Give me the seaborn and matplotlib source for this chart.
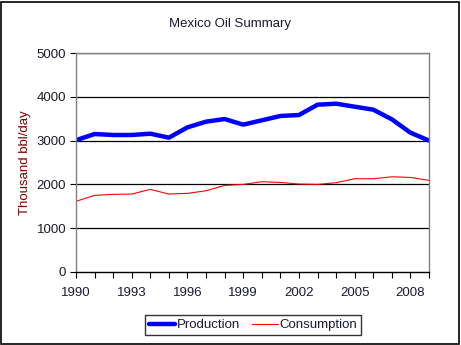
import matplotlib
matplotlib.use("Agg")
import matplotlib.pyplot as plt
import seaborn as sns
import pandas as pd
from matplotlib.patches import Rectangle
from matplotlib.lines import Line2D

years = list(range(1990, 2010))
production = [3010, 3150, 3128, 3128, 3158, 3067, 3303, 3432, 3493, 3364,
              3463, 3562, 3584, 3820, 3843, 3774, 3706, 3486, 3181, 3000]
consumption = [1614, 1750, 1773, 1780, 1886, 1780, 1795, 1855, 1977, 2000,
               2061, 2045, 2008, 2000, 2038, 2129, 2129, 2174, 2159, 2091]
xtick_labels = ["1990", "1993", "1996", "1999", "2002", "2005", "2008"]
yticks = [0, 1000, 2000, 3000, 4000, 5000]

df = pd.DataFrame({
    "Year": years * 2,
    "Value": production + consumption,
    "Series": ["Production"] * len(years) + ["Consumption"] * len(years),
})

sns.set_style("white")
plt.rcParams["font.family"] = ["Liberation Sans", "DejaVu Sans"]

fig = plt.figure(figsize=(4.61, 3.45), dpi=100)
ax = fig.add_axes([76 / 461, 73 / 345, 353 / 461, 219 / 345])

sns.lineplot(data=df, x="Year", y="Value", hue="Series", size="Series",
             palette={"Production": "#0000ff", "Consumption": "#ff0000"},
             sizes={"Production": 3.2, "Consumption": 0.8},
             ax=ax, legend=False)

ax.set_xlim(1990, 2009)
ax.set_ylim(0, 5000)
ax.set_yticks(yticks)
ax.set_yticklabels([str(v) for v in yticks], fontsize=9.5, color="#1a1a33")
ax.set_xticks(years)
labs = [str(y) if str(y) in xtick_labels else "" for y in years]
ax.set_xticklabels(labs, fontsize=9.5, color="#1a1a33")
ax.tick_params(axis="both", direction="out", length=4, width=0.8, color="black",
               bottom=True, left=True)
ax.tick_params(axis="x", pad=7)
ax.tick_params(axis="y", pad=3)
for y in yticks[1:]:
    ax.axhline(y, color="black", lw=0.9, zorder=0)
ax.set_xlabel("")
ax.set_ylabel("Thousand bbl/day", fontsize=9.5, color="#800000", labelpad=4)
for side in ["top", "right", "left"]:
    ax.spines[side].set_color("#808080")
    ax.spines[side].set_linewidth(1)
ax.spines["bottom"].set_color("black")
ax.spines["bottom"].set_linewidth(1)

fig.text(230 / 461, 1 - 24 / 345, "Mexico Oil Summary", ha="center", va="center",
         fontsize=9.5, color="#1a1a33")

handles = [Line2D([], [], color="#0000ff", lw=3.2),
           Line2D([], [], color="#ff0000", lw=0.8)]
leg = fig.legend(handles, ["Production", "Consumption"], loc="center",
                 bbox_to_anchor=(253 / 461, 1 - 325 / 345), ncol=2, frameon=True,
                 fontsize=9.5, fancybox=False, handlelength=2.0, handletextpad=0.1,
                 columnspacing=0.9, borderpad=0.3, borderaxespad=0)
leg.get_frame().set_edgecolor("black")
leg.get_frame().set_linewidth(1)
for t in leg.get_texts():
    t.set_color("#1a1a33")

fig.patches.append(Rectangle((1 / 461, 1 / 345), 458 / 461, 342 / 345,
                             transform=fig.transFigure, fill=False,
                             edgecolor="black", lw=1.2))

fig.savefig("out.png", dpi=100)
